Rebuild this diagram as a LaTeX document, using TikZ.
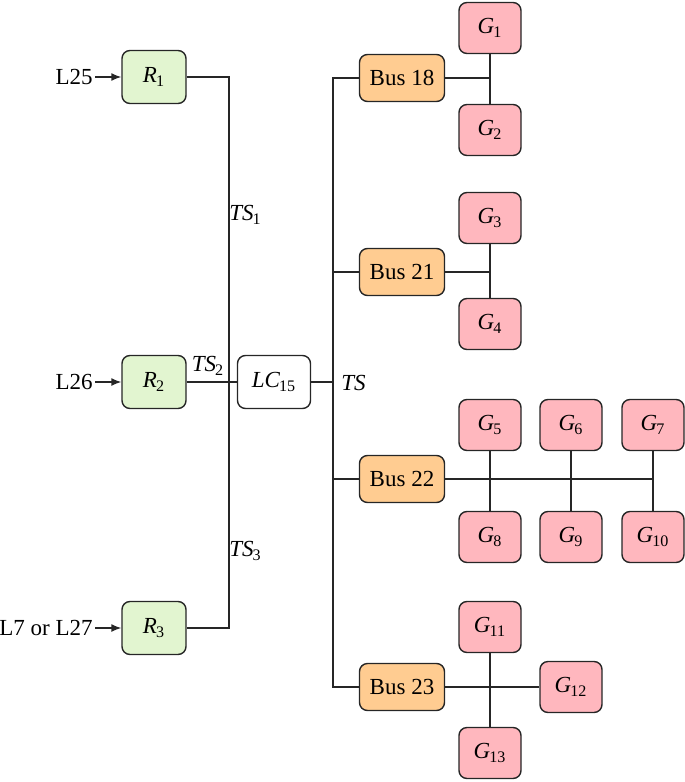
\documentclass[tikz,border=0pt]{standalone}
\usepackage{fontspec}
\setmainfont{Liberation Serif}
\usepackage{tikz}
\usetikzlibrary{arrows,arrows.meta,positioning}

\definecolor{relaygreen}{RGB}{226,245,208}
\definecolor{busorange}{RGB}{255,204,145}
\definecolor{genpink}{RGB}{255,183,190}

\newcommand{\symsub}[2]{\textit{#1}\kern-0.5pt\textsubscript{#2}}

\tikzset{
    box/.style={draw=black!85, line width=0.7pt, rounded corners=4pt, inner sep=1pt, font=\fontsize{11.5}{13}\selectfont},
    relay/.style={box, fill=relaygreen, minimum width=32pt, minimum height=26.5pt},
    lcbox/.style={box, fill=white, minimum width=36.5pt, minimum height=26.5pt},
    bus/.style={box, fill=busorange, minimum width=42.5pt, minimum height=23.5pt},
    gen/.style={box, fill=genpink, minimum width=31pt, minimum height=25.5pt},
    lbl/.style={inner sep=1pt, font=\fontsize{11.5}{13}\selectfont},
    wire/.style={draw=black!85, line width=0.7pt}
}

\begin{document}
\begin{tikzpicture}[x=0.5pt,y=-0.5pt,>={Latex[length=5pt,width=4pt]}]
            \useasboundingbox (0,0) rectangle (685,782);
            % relays
            \node[relay] (R1) at (154,77) {\symsub{R}{1}};
            \node[relay] (R2) at (154,382) {\symsub{R}{2}};
            \node[relay] (R3) at (154,628) {\symsub{R}{3}};
            \node[lbl, anchor=east] (in1) at (95,77) {L25};
            \node[lbl, anchor=east] (in2) at (95,382) {L26};
            \node[lbl, anchor=east] (in3) at (95,628) {L7 or L27};
            \draw[wire, ->] (in1) -- (R1);
            \draw[wire, ->] (in2) -- (R2);
            \draw[wire, ->] (in3) -- (R3);
            % load controller
            \node[lcbox] (LC) at (274,382) {\symsub{LC}{15}};
            \coordinate (jL) at (229,382);
            \coordinate (jR) at (333,382);
            \draw[wire] (R1.east) -| (jL) |- (R3.east);
            \draw[wire] (R2) -- (LC);
            \draw[wire] (LC) -- (jR);
            \node[lbl, anchor=west] (ts1) at (227,215) {\symsub{TS}{1}};
            \node[lbl] (ts2) at (208,366) {\symsub{TS}{2}};
            \node[lbl, anchor=west] (ts3) at (227,551) {\symsub{TS}{3}};
            \node[lbl, anchor=west] (ts) at (339,383) {\textit{TS}};
            % buses
            \node[bus] (B18) at (402,78) {Bus 18};
            \node[bus] (B21) at (402,272) {Bus 21};
            \node[bus] (B22) at (402,479) {Bus 22};
            \node[bus] (B23) at (402,687) {Bus 23};
            \draw[wire] (B18.west) -| (jR) |- (B23.west);
            \draw[wire] (jR) |- (B21.west);
            \draw[wire] (jR) |- (B22.west);
            % generators
            \node[gen] (G1) at (490,28) {\symsub{G}{1}};
            \node[gen] (G2) at (490,130) {\symsub{G}{2}};
            \node[gen] (G3) at (490,218) {\symsub{G}{3}};
            \node[gen] (G4) at (490,324) {\symsub{G}{4}};
            \node[gen] (G5) at (490,425) {\symsub{G}{5}};
            \node[gen] (G6) at (571,425) {\symsub{G}{6}};
            \node[gen] (G7) at (653,425) {\symsub{G}{7}};
            \node[gen] (G8) at (490,537) {\symsub{G}{8}};
            \node[gen] (G9) at (571,537) {\symsub{G}{9}};
            \node[gen] (G10) at (653,537) {\symsub{G}{10}};
            \node[gen] (G11) at (490,627) {\symsub{G}{11}};
            \node[gen] (G12) at (571,687) {\symsub{G}{12}};
            \node[gen] (G13) at (490,753) {\symsub{G}{13}};
            \draw[wire] (G1) -- (G2);
            \draw[wire] (B18) -- (B18 -| G1);
            \draw[wire] (G3) -- (G4);
            \draw[wire] (B21) -- (B21 -| G3);
            \draw[wire] (G5) -- (G8);
            \draw[wire] (G6) -- (G9);
            \draw[wire] (G7) -- (G10);
            \draw[wire] (B22) -- (B22 -| G7);
            \draw[wire] (G11) -- (G13);
            \draw[wire] (B23) -- (G12);
\end{tikzpicture}
\end{document}
